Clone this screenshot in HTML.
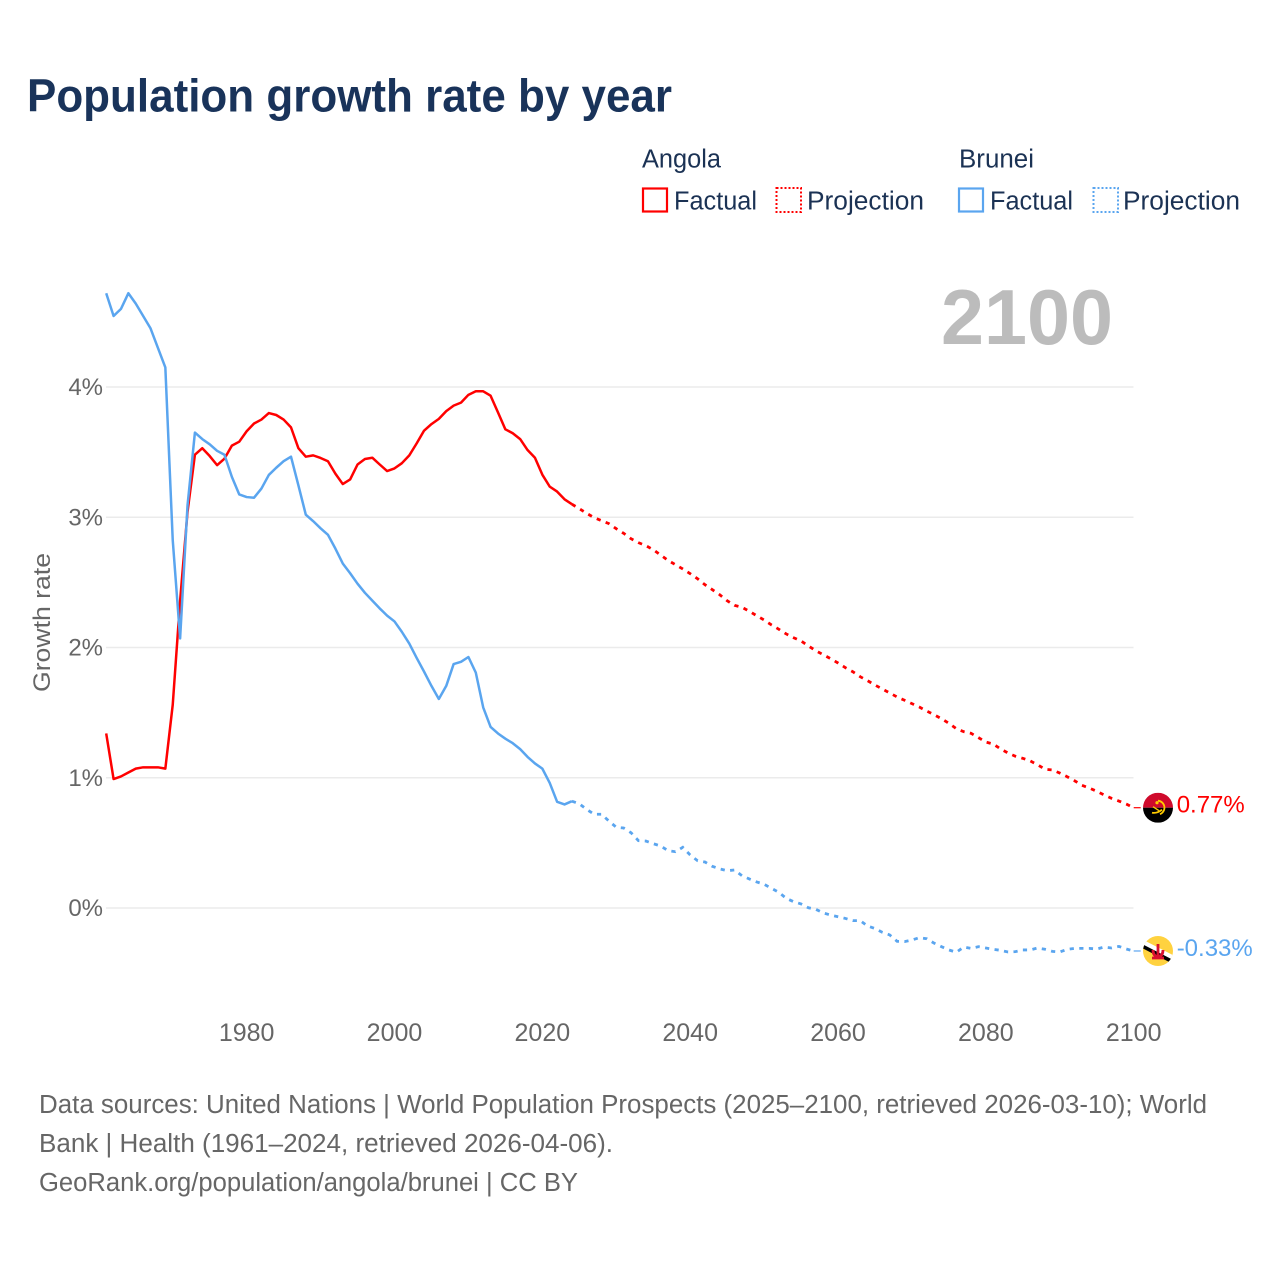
<!DOCTYPE html>
<html lang="en">
<head>
<meta charset="utf-8">
<title>Population growth rate by year</title>
<style>
  html, body { margin: 0; padding: 0; background: #fff; }
  svg { display: block; font-family: "Liberation Sans", sans-serif; }
</style>
</head>
<body>
<svg id="chart" xmlns="http://www.w3.org/2000/svg" width="1280" height="1280" viewBox="0 0 1280 1280">
  <defs>
    <clipPath id="flag-clip"><circle cx="0" cy="0" r="15"/></clipPath>
  </defs>
  <rect x="0" y="0" width="1280" height="1280" fill="#ffffff"/>
  <text x="27" y="111.5" font-size="46" font-weight="700" fill="#19335a" textLength="645" lengthAdjust="spacingAndGlyphs">Population growth rate by year</text>

  <g font-size="25.5" fill="#1b3254">
    <text x="642" y="167.5" textLength="79" lengthAdjust="spacingAndGlyphs">Angola</text>
    <text x="959" y="167.5" textLength="75" lengthAdjust="spacingAndGlyphs">Brunei</text>
    <g>
      <rect x="643" y="188.5" width="24" height="23" fill="none" stroke="#ff0000" stroke-width="2.2"/>
      <text x="674" y="209.5" textLength="83" lengthAdjust="spacingAndGlyphs">Factual</text>
    </g>
    <g>
      <rect x="776.5" y="188" width="24.5" height="24" fill="none" stroke="#ff0000" stroke-width="2" stroke-dasharray="2 2"/>
      <text x="807" y="209.5" textLength="117" lengthAdjust="spacingAndGlyphs">Projection</text>
    </g>
    <g>
      <rect x="959" y="188.5" width="24" height="23" fill="none" stroke="#5aa5ef" stroke-width="2.2"/>
      <text x="990" y="209.5" textLength="83" lengthAdjust="spacingAndGlyphs">Factual</text>
    </g>
    <g>
      <rect x="1093.5" y="188" width="24.5" height="24" fill="none" stroke="#5aa5ef" stroke-width="2" stroke-dasharray="2 2"/>
      <text x="1123" y="209.5" textLength="117" lengthAdjust="spacingAndGlyphs">Projection</text>
    </g>
  </g>

  <text x="941" y="344" font-size="78" font-weight="700" fill="#bcbcbc" textLength="172" lengthAdjust="spacingAndGlyphs">2100</text>
  <text transform="translate(50,692) rotate(-90)" font-size="24.5" fill="#666666" textLength="139" lengthAdjust="spacingAndGlyphs">Growth rate</text>

  <g id="grid"></g>
  <g id="yticks"></g>
  <g id="xticks"></g>
  <g id="series"></g>
  <g id="endmarks"></g>

  <g font-size="25.5" fill="#666666">
    <text x="39" y="1113" textLength="1168" lengthAdjust="spacingAndGlyphs">Data sources: United Nations | World Population Prospects (2025–2100, retrieved 2026-03-10); World</text>
    <text x="39" y="1152" textLength="574" lengthAdjust="spacingAndGlyphs">Bank | Health (1961–2024, retrieved 2026-04-06).</text>
    <text x="39" y="1191" textLength="539" lengthAdjust="spacingAndGlyphs">GeoRank.org/population/angola/brunei | CC BY</text>
  </g>
</svg>
<script>
const factualStartYear = 1961;
const projectionStartYear = 2025;
const yTickValues = [0, 1, 2, 3, 4];
const xTickYears = [1980, 2000, 2020, 2040, 2060, 2080, 2100];
const angolaFactual = [1.34,0.99,1.01,1.04,1.07,1.08,1.08,1.08,1.07,1.56,2.36,3.04,3.48,3.53,3.47,3.40,3.45,3.55,3.58,3.66,3.72,3.75,3.80,3.785,3.75,3.69,3.53,3.465,3.475,3.455,3.43,3.335,3.255,3.29,3.405,3.447,3.457,3.405,3.355,3.375,3.415,3.475,3.567,3.665,3.715,3.755,3.815,3.857,3.88,3.94,3.967,3.967,3.933,3.805,3.675,3.645,3.60,3.516,3.457,3.327,3.235,3.197,3.138,3.10];
const angolaProjection = [3.066,3.030,2.997,2.974,2.951,2.912,2.877,2.835,2.805,2.782,2.751,2.710,2.669,2.636,2.603,2.567,2.528,2.482,2.444,2.405,2.359,2.324,2.309,2.278,2.244,2.211,2.173,2.140,2.104,2.075,2.050,2.012,1.975,1.945,1.914,1.881,1.845,1.814,1.776,1.745,1.712,1.681,1.651,1.620,1.595,1.569,1.543,1.512,1.484,1.453,1.418,1.377,1.354,1.341,1.308,1.274,1.259,1.221,1.190,1.165,1.149,1.129,1.100,1.065,1.060,1.036,1.008,0.977,0.942,0.921,0.896,0.868,0.842,0.821,0.798,0.77];
const bruneiFactual = [4.72,4.545,4.60,4.72,4.64,4.545,4.45,4.30,4.15,2.825,2.07,3.09,3.65,3.60,3.56,3.51,3.48,3.31,3.175,3.155,3.15,3.22,3.325,3.38,3.43,3.465,3.245,3.02,2.97,2.915,2.865,2.76,2.645,2.57,2.49,2.42,2.36,2.30,2.245,2.20,2.12,2.03,1.92,1.815,1.705,1.605,1.705,1.873,1.89,1.927,1.807,1.54,1.39,1.34,1.30,1.265,1.22,1.16,1.11,1.07,0.96,0.815,0.795,0.82];
const bruneiProjection = [0.80,0.757,0.72,0.72,0.668,0.62,0.614,0.578,0.517,0.514,0.494,0.476,0.44,0.432,0.466,0.407,0.363,0.353,0.32,0.30,0.286,0.292,0.248,0.223,0.20,0.182,0.151,0.12,0.074,0.048,0.031,0.002,-0.01,-0.038,-0.054,-0.067,-0.08,-0.097,-0.097,-0.138,-0.158,-0.187,-0.207,-0.256,-0.258,-0.246,-0.228,-0.236,-0.27,-0.297,-0.322,-0.34,-0.30,-0.31,-0.297,-0.307,-0.317,-0.325,-0.338,-0.335,-0.322,-0.322,-0.307,-0.317,-0.333,-0.338,-0.317,-0.31,-0.31,-0.31,-0.315,-0.30,-0.307,-0.295,-0.315,-0.33];

const SVG_NS = 'http://www.w3.org/2000/svg';
const RED = '#ff0000';
const BLUE = '#5aa5ef';

function xScale(year) {
  return 106.2 + (year - 1961) * (1133.7 - 106.2) / (2100 - 1961);
}
function yScale(value) {
  return 908 - value * 130.25;
}
function make(tag, attrs, parent) {
  const el = document.createElementNS(SVG_NS, tag);
  Object.keys(attrs).forEach(function (k) { el.setAttribute(k, attrs[k]); });
  parent.appendChild(el);
  return el;
}
function linePath(startYear, values) {
  return values.map(function (v, i) {
    return (i ? 'L' : 'M') + xScale(startYear + i).toFixed(2) + ' ' + yScale(v).toFixed(2);
  }).join('');
}

const grid = document.getElementById('grid');
const yticks = document.getElementById('yticks');
yTickValues.forEach(function (v) {
  const line = make('line', { x1: 106, x2: 1133.5, y1: yScale(v), y2: yScale(v), stroke: '#ebebeb', 'stroke-width': 1.5 }, grid);
  
  
  const label = make('text', { x: 103, y: yScale(v) + 8, 'text-anchor': 'end', 'font-size': 24, fill: '#666666' }, yticks);
  label.textContent = v + '%';
  
  
});

const xticks = document.getElementById('xticks');
xTickYears.forEach(function (yr) {
  const label = make('text', { x: xScale(yr), y: 1041, 'text-anchor': 'middle', 'font-size': 25, fill: '#666666' }, xticks);
  label.textContent = String(yr);
  
  
});

const series = document.getElementById('series');
function drawSeries(factual, projection, color) {
  const solid = make('path', { d: linePath(factualStartYear, factual), fill: 'none', stroke: color, 'stroke-width': 2.5, 'stroke-linejoin': 'round' }, series);
  
  
  const joined = [factual[factual.length - 1]].concat(projection);
  const dashed = make('path', { d: linePath(projectionStartYear - 1, joined), fill: 'none', stroke: color, 'stroke-width': 2.8, 'stroke-dasharray': '4.2 5.4' }, series);
  
  
}
drawSeries(angolaFactual, angolaProjection, RED);
drawSeries(bruneiFactual, bruneiProjection, BLUE);

const endmarks = document.getElementById('endmarks');
function drawEnd(value, color, flagMarkup) {
  const px = xScale(2100);
  const py = yScale(value);
  const conn = make('line', { x1: px, x2: px + 7, y1: py, y2: py, stroke: color, 'stroke-width': 1.2 }, endmarks);
  
  
  const flag = make('g', { transform: 'translate(' + (px + 24.3) + ' ' + py + ')' }, endmarks);
  flag.innerHTML = flagMarkup;
  
  
  const label = make('text', { x: px + 43, y: py + 5, 'font-size': 24, fill: color }, endmarks);
  label.textContent = value.toFixed(2) + '%';
  
  
}
const angolaFlag = '<g clip-path="url(#flag-clip)">' +
  '<rect x="-15" y="-15" width="30" height="15" fill="#cf0a2c"/>' +
  '<rect x="-15" y="0" width="30" height="15" fill="#000"/>' +
  '<path d="M0 -7 A7 7 0 0 1 2 6.5" fill="none" stroke="#ffcb00" stroke-width="1.8"/>' +
  '<path d="M-6 5 Q-1 6 4 2" fill="none" stroke="#ffcb00" stroke-width="1.8"/>' +
  '<path d="M-5 -1 L1 3" fill="none" stroke="#ffcb00" stroke-width="1.4"/>' +
  '<circle cx="-1" cy="-5" r="1.6" fill="#ffcb00"/></g>';
const bruneiFlag = '<g clip-path="url(#flag-clip)">' +
  '<rect x="-15" y="-15" width="30" height="30" fill="#ffd23f"/>' +
  '<path d="M-17 -9.5 L17 8" stroke="#ffffff" stroke-width="5" fill="none"/>' +
  '<path d="M-17 -5.5 L17 12" stroke="#000000" stroke-width="3.6" fill="none"/>' +
  '<path d="M0 -7 V5 M-5 -1 Q-5 5 0 6 Q5 5 5 -1 M-6 7 H6" stroke="#d9102f" stroke-width="2.8" fill="none"/></g>';
drawEnd(angolaProjection[angolaProjection.length - 1], RED, angolaFlag);
drawEnd(bruneiProjection[bruneiProjection.length - 1], BLUE, bruneiFlag);
</script>
</body>
</html>
